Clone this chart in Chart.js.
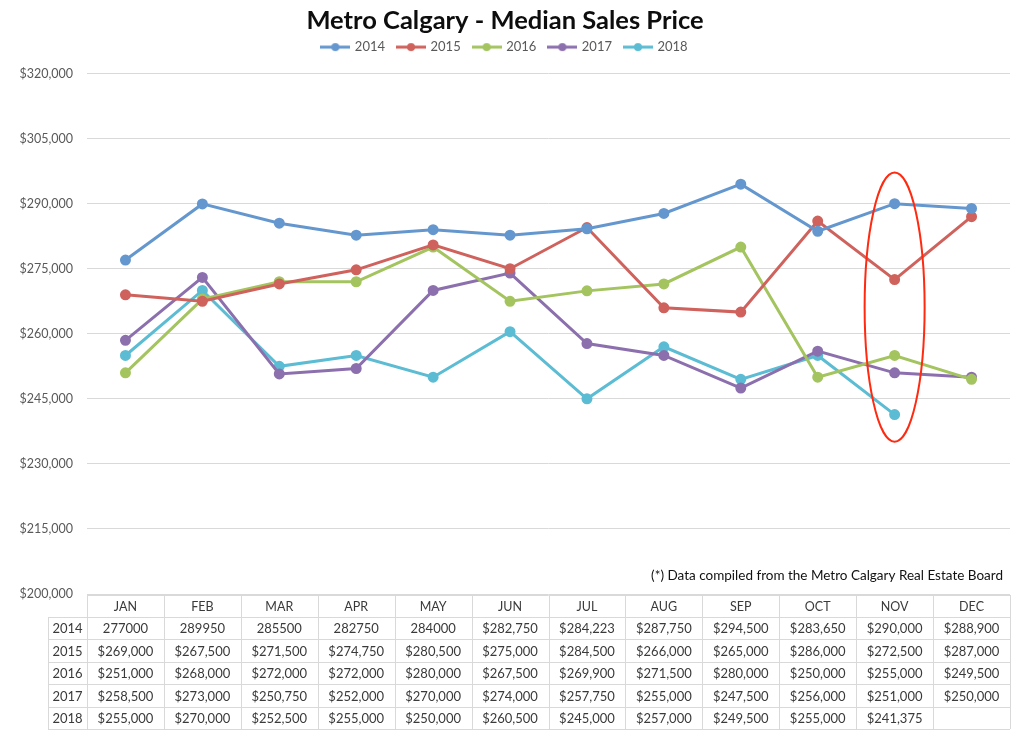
<!DOCTYPE html>
<html>
<head>
<meta charset="utf-8">
<script src="https://cdn.jsdelivr.net/npm/chart.js@4"></script>
<style>
  html, body { margin: 0; padding: 0; background: #fff; }
  #wrap { width: 1024px; height: 737px; }
</style>
</head>
<body>
<div id="wrap"><canvas id="chart" width="1024" height="737"></canvas></div>
<script>
const months = ['JAN', 'FEB', 'MAR', 'APR', 'MAY', 'JUN', 'JUL', 'AUG', 'SEP', 'OCT', 'NOV', 'DEC'];
const years = ['2014', '2015', '2016', '2017', '2018'];

const sales2014 = [277000, 289950, 285500, 282750, 284000, 282750, 284223, 287750, 294500, 283650, 290000, 288900];
const sales2015 = [269000, 267500, 271500, 274750, 280500, 275000, 284500, 266000, 265000, 286000, 272500, 287000];
const sales2016 = [251000, 268000, 272000, 272000, 280000, 267500, 269900, 271500, 280000, 250000, 255000, 249500];
const sales2017 = [258500, 273000, 250750, 252000, 270000, 274000, 257750, 255000, 247500, 256000, 251000, 250000];
const sales2018 = [255000, 270000, 252500, 255000, 250000, 260500, 245000, 257000, 249500, 255000, 241375, null];

// the first few 2014 cells in the source table are unformatted numbers
const plainCells2014 = 5;

const yMin = 200000, yMax = 320000, yStep = 15000;

// red ring drawn around November
const ringMonth = 10;
const ringTop = 297200, ringBottom = 235100;

const colors = ['#6597cf', '#cf625c', '#a3c45e', '#8c70ae', '#5bbcd3'];
const seriesList = [sales2014, sales2015, sales2016, sales2017, sales2018];

const FONT = 'Lato, "Open Sans", sans-serif';

function money(v) {
    return '$' + v.toLocaleString('en-US');
}

function legendIcon(color) {
    const c = document.createElement('canvas');
    c.width = 30;
    c.height = 10;
    const g = c.getContext('2d');
    g.strokeStyle = color;
    g.lineWidth = 3;
    g.beginPath();
    g.moveTo(0, 5);
    g.lineTo(30, 5);
    g.stroke();
    g.fillStyle = color;
    g.beginPath();
    g.arc(15, 5, 4, 0, Math.PI * 2);
    g.fill();
    return c;
}

// leave a little room under the legend
const legendGap = {
    id: 'legendGap',
    beforeInit(chart) {
        const fit = chart.legend.fit;
        chart.legend.fit = function () {
            fit.bind(chart.legend)();
            this.height += 10;
        };
    }
};

const ringPlugin = {
    id: 'ring',
    afterDatasetsDraw(chart) {
        const { ctx, scales } = chart;
        const cx = scales.x.getPixelForValue(ringMonth);
        const colW = scales.x.getPixelForValue(1) - scales.x.getPixelForValue(0);
        const y1 = scales.y.getPixelForValue(ringTop);
        const y2 = scales.y.getPixelForValue(ringBottom);
        ctx.save();
        ctx.strokeStyle = '#ff2a10';
        ctx.lineWidth = 2;
        ctx.beginPath();
        ctx.ellipse(cx, (y1 + y2) / 2, colW * 0.39, (y2 - y1) / 2, 0, 0, Math.PI * 2);
        ctx.stroke();
        ctx.restore();
    }
};

const tablePlugin = {
    id: 'dataTable',
    afterDraw(chart) {
        const { ctx, chartArea, scales } = chart;
        const x = scales.x;
        const colW = x.getPixelForValue(1) - x.getPixelForValue(0);
        const left = chartArea.left, right = chartArea.right;
        const top = chartArea.bottom + 1;
        const headerH = 22, rowH = 22.4;
        const yearLeft = 48;
        const bottom = top + headerH + rowH * years.length;

        ctx.save();
        ctx.strokeStyle = '#d9d9d9';
        ctx.lineWidth = 1;
        ctx.beginPath();
        ctx.moveTo(left, top + 0.5);
        ctx.lineTo(right, top + 0.5);
        for (let r = 0; r <= years.length; r++) {
            const yy = Math.round(top + headerH + r * rowH) + 0.5;
            ctx.moveTo(yearLeft, yy);
            ctx.lineTo(right, yy);
        }
        ctx.moveTo(yearLeft + 0.5, top + headerH);
        ctx.lineTo(yearLeft + 0.5, bottom);
        for (let c = 0; c <= months.length; c++) {
            const xx = Math.round(left + c * colW) + 0.5;
            ctx.moveTo(xx, top);
            ctx.lineTo(xx, bottom);
        }
        ctx.stroke();

        ctx.fillStyle = '#3a3a3a';
        ctx.textAlign = 'center';
        ctx.textBaseline = 'middle';
        ctx.font = '12.5px ' + FONT;
        months.forEach((m, i) => {
            ctx.fillText(m, x.getPixelForValue(i), top + headerH / 2 + 1);
        });
        ctx.font = '13px ' + FONT;
        years.forEach((yr, r) => {
            const cy = top + headerH + r * rowH + rowH / 2 + 1;
            ctx.fillText(yr, (yearLeft + left) / 2, cy);
            seriesList[r].forEach((v, i) => {
                if (v === null) return;
                const txt = (r === 0 && i < plainCells2014) ? String(v) : money(v);
                ctx.fillText(txt, x.getPixelForValue(i), cy);
            });
        });

        ctx.fillStyle = '#111';
        ctx.textAlign = 'right';
        ctx.font = '13.5px ' + FONT;
        ctx.fillText('(*) Data compiled from the Metro Calgary Real Estate Board', right - 7, chartArea.bottom - 18);
        ctx.restore();
    }
};

new Chart(document.getElementById('chart'), {
    type: 'line',
    data: {
        labels: months,
        datasets: years.map((yr, i) => ({
            label: yr,
            data: seriesList[i],
            borderColor: colors[i],
            backgroundColor: colors[i],
            borderWidth: 3,
            pointRadius: 4,
            pointHoverRadius: 4,
            pointBackgroundColor: colors[i],
            pointBorderColor: colors[i],
            tension: 0,
            spanGaps: false
        }))
    },
    options: {
        responsive: false,
        animation: false,
        layout: { padding: { left: 0, right: 14, top: 0, bottom: 143 } },
        plugins: {
            title: {
                display: true,
                text: 'Metro Calgary - Median Sales Price',
                color: '#0d0d0d',
                font: { family: FONT, size: 25.5, weight: 'bold' },
                padding: { top: 5, bottom: -8 }
            },
            legend: {
                position: 'top',
                labels: {
                    color: '#595959',
                    font: { family: FONT, size: 13 },
                    usePointStyle: true,
                    pointStyleWidth: 26,
                    padding: 13,
                    generateLabels(chart) {
                        return chart.data.datasets.map((ds, i) => ({
                            text: ds.label,
                            pointStyle: legendIcon(colors[i]),
                            fillStyle: colors[i],
                            strokeStyle: colors[i],
                            lineWidth: 0,
                            fontColor: '#595959',
                            datasetIndex: i
                        }));
                    }
                }
            },
            tooltip: { enabled: false }
        },
        scales: {
            x: {
                offset: true,
                grid: { display: false },
                border: { display: false },
                ticks: { display: false },
                afterFit(scale) { scale.height = 0; }
            },
            y: {
                min: yMin,
                max: yMax,
                ticks: {
                    stepSize: yStep,
                    color: '#595959',
                    font: { family: FONT, size: 12.5 },
                    padding: 14,
                    callback: v => money(v)
                },
                grid: { color: '#d9d9d9', drawTicks: false },
                border: { display: false },
                afterFit(scale) { scale.width = 87; }
            }
        }
    },
    plugins: [legendGap, ringPlugin, tablePlugin]
});
</script>
</body>
</html>
